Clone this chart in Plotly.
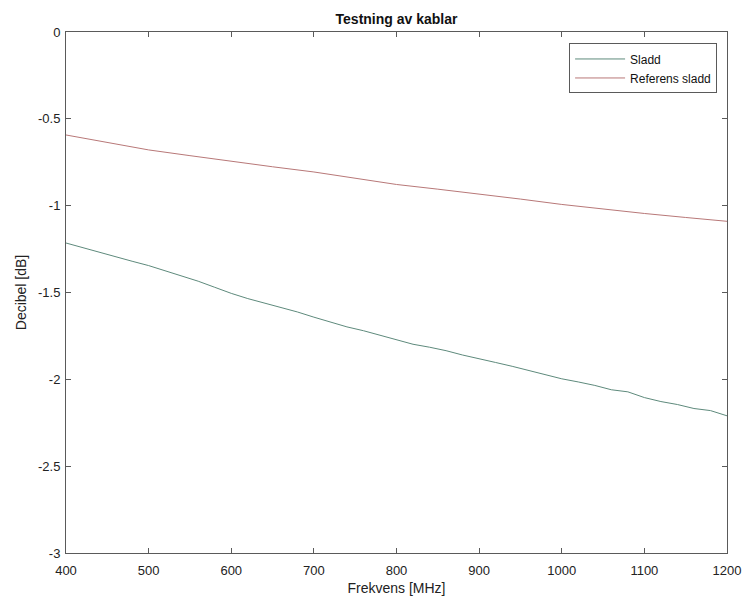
import plotly.graph_objects as go

# Measured attenuation of the cable and the reference cable
freq_sladd = [400, 420, 440, 460, 480, 500, 520, 540, 560, 580, 600, 620, 640, 660, 680,
              700, 720, 740, 760, 780, 800, 820, 840, 860, 880, 900, 920, 940, 960, 980,
              1000, 1020, 1040, 1060, 1080, 1100, 1120, 1140, 1160, 1180, 1200]
db_sladd = [-1.215, -1.242, -1.268, -1.293, -1.320, -1.345, -1.375, -1.405, -1.435, -1.470,
            -1.505, -1.535, -1.560, -1.585, -1.612, -1.642, -1.670, -1.698, -1.720, -1.745,
            -1.770, -1.798, -1.815, -1.835, -1.860, -1.880, -1.903, -1.925, -1.950, -1.975,
            -1.997, -2.015, -2.035, -2.060, -2.072, -2.105, -2.128, -2.145, -2.168, -2.180,
            -2.210]

freq_ref = [400, 450, 500, 550, 600, 650, 700, 750, 800, 850, 900, 950, 1000, 1050, 1100,
            1150, 1200]
db_ref = [-0.593, -0.636, -0.679, -0.712, -0.745, -0.776, -0.806, -0.843, -0.878, -0.905,
          -0.932, -0.962, -0.993, -1.020, -1.045, -1.068, -1.090]

x_ticks = [400, 500, 600, 700, 800, 900, 1000, 1100, 1200]
y_ticks = [0, -0.5, -1, -1.5, -2, -2.5, -3]
y_labels = ["0", "-0.5", "-1", "-1.5", "-2", "-2.5", "-3"]

font = "Liberation Sans, Arial, Helvetica, sans-serif"
axis_col = "#5a5a5a"

fig = go.Figure()
fig.add_trace(go.Scatter(x=freq_sladd, y=db_sladd, mode="lines", name="Sladd",
                         line=dict(color="#5e8a7c", width=1)))
fig.add_trace(go.Scatter(x=freq_ref, y=db_ref, mode="lines", name="Referens sladd",
                         line=dict(color="#b87878", width=1)))

axis_common = dict(showline=True, linecolor=axis_col, linewidth=1, mirror="ticks",
                   ticks="inside", ticklen=5, tickcolor=axis_col, showgrid=False,
                   zeroline=False, automargin=False,
                   tickfont=dict(family=font, size=13, color="#222"))

fig.update_layout(
    width=745, height=599,
    margin=dict(l=66, r=18, t=32, b=46),
    paper_bgcolor="white", plot_bgcolor="white",
    title=dict(text="<b>Testning av kablar</b>", x=(66 + 727) / 2 / 745, xanchor="center",
               y=1 - 19 / 599, yanchor="middle",
               font=dict(family=font, size=14, color="#111")),
    xaxis=dict(range=[400, 1200], tickvals=x_ticks, ticklabelstandoff=5,
               title=dict(text="Frekvens [MHz]", standoff=6,
                          font=dict(family=font, size=14, color="#222")),
               **axis_common),
    yaxis=dict(range=[-3, 0], tickvals=y_ticks, ticktext=y_labels, ticklabelstandoff=2,
               title=dict(text="Decibel [dB]", standoff=8,
                          font=dict(family=font, size=14, color="#222")),
               **axis_common),
    legend=dict(x=0.985, y=0.978, xanchor="right", yanchor="top",
                bgcolor="white", bordercolor=axis_col, borderwidth=1,
                font=dict(family=font, size=12, color="#111"),
                tracegroupgap=0, itemwidth=50),
    showlegend=True,
)

fig.write_html("out.html")
